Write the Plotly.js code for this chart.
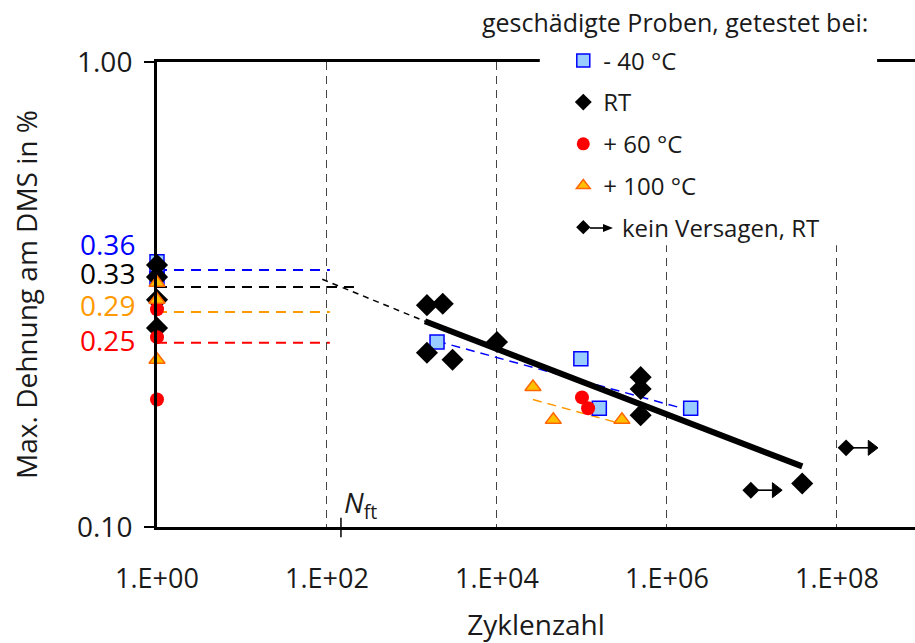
<!DOCTYPE html>
<html><head><meta charset="utf-8">
<script src="https://cdn.plot.ly/plotly-3.0.1.min.js"></script>
<style>html,body{margin:0;padding:0;overflow:hidden;background:#fff}</style>
</head><body><div id="chart" style="width:915px;height:643px"></div>
<script>
// ---- data ----
const m40_x = [1, 1, 1, 1970, 9.7e4, 1.6e5, 1.9e6];
const m40_y = [0.372, 0.357, 0.342, 0.250, 0.230, 0.180, 0.180];
const rt_x = [1, 1, 1, 1, 1500, 2300, 1500, 3000, 1e4, 4.9e5, 4.9e5, 4.9e5, 3.9e7];
const rt_y = [0.366, 0.345, 0.308, 0.268, 0.300, 0.302, 0.237, 0.229, 0.250, 0.210, 0.198, 0.174, 0.124];
const p60_x = [1, 1, 1, 1.0e5, 1.18e5];
const p60_y = [0.294, 0.256, 0.188, 0.190, 0.180];
const p100_x = [1, 1, 1, 2.65e4, 4.6e4, 2.95e5];
const p100_y = [0.335, 0.308, 0.229, 0.200, 0.170, 0.170];
const nf_x = [9.7e6, 1.28e8];
const nf_y = [0.120, 0.148];
const nf_arrow_x = [1.9e7, 2.55e8];
const fit_rt_x = [1420, 3.9e7];
const fit_rt_y = [0.277, 0.135];
const fit_rt_ext_x = [88, 1420];
const fit_rt_ext_y = [0.341, 0.277];
const fit_m40_x = [1970, 1.9e6];
const fit_m40_y = [0.251, 0.178];
const fit_p100_x = [2.65e4, 2.8e5];
const fit_p100_y = [0.188, 0.167];
const ref_levels = [0.357, 0.328, 0.290, 0.249];
const ref_labels = ['0.36', '0.33', '0.29', '0.25'];
const ref_colors = ['#0000ff', '#000000', '#ff9900', '#ff0000'];
const ref_end_x = [108, 232, 108, 108];
const ref_label_shift = [26, 14, 7, 3];
const xtick_vals = [1, 1e2, 1e4, 1e6, 1e8];
const xtick_text = ['1.E+00', '1.E+02', '1.E+04', '1.E+06', '1.E+08'];
const ytick_vals = [0.1, 1];
const ytick_text = ['0.10', '1.00'];
const nft = 146;
const legend_names = ['- 40 °C', 'RT', '+ 60 °C', '+ 100 °C', '\u00a0\u00a0\u00a0kein Versagen, RT'];

const FONT = 'Open Sans, Noto Sans, sans-serif';
const TXT = '#1a1a1a';
const traces = [];

// reference level dashed lines
ref_levels.forEach((v, i) => {
  traces.push({x: [1, ref_end_x[i]], y: [v, v], mode: 'lines', showlegend: false, cliponaxis: false,
    line: {color: ref_colors[i], width: 2, dash: '10px,7px'}});
});
// fit lines
traces.push({x: fit_rt_ext_x, y: fit_rt_ext_y, mode: 'lines', showlegend: false,
  line: {color: '#000', width: 1.5, dash: '6px,5px'}});
traces.push({x: fit_m40_x, y: fit_m40_y, mode: 'lines', showlegend: false,
  line: {color: '#0000ff', width: 1.5, dash: '9px,6px'}});
traces.push({x: fit_p100_x, y: fit_p100_y, mode: 'lines', showlegend: false,
  line: {color: '#ff9900', width: 1.5, dash: '9px,6px'}});
traces.push({x: fit_rt_x, y: fit_rt_y, mode: 'lines', showlegend: false,
  line: {color: '#000', width: 6}});

// run-out arrows (no failure): shaft from point to arrow head
nf_x.forEach((x, i) => {
  traces.push({x: [x, nf_arrow_x[i]], y: [nf_y[i], nf_y[i]], mode: 'lines+markers', showlegend: false,
    line: {color: '#000', width: 1.6},
    marker: {symbol: ['circle', 'triangle-right'], size: [0, 13], color: '#000', opacity: 1,
             line: {color: '#000', width: 1}}});
});

// data markers
const mk = {
  m40: {symbol: 'square', color: '#99ccff', line: {color: '#0000ff', width: 1.5}},
  rt: {symbol: 'diamond', color: '#000'},
  p60: {symbol: 'circle', color: '#ff0000'},
  p100: {symbol: 'triangle-up', color: '#ffc000', line: {color: '#ff6600', width: 1.5}},
  nf: {symbol: 'diamond', color: '#000'}
};
traces.push({x: m40_x, y: m40_y, mode: 'markers', showlegend: false, cliponaxis: false, marker: Object.assign({size: 14}, mk.m40)});
traces.push({x: rt_x, y: rt_y, mode: 'markers', showlegend: false, cliponaxis: false, marker: Object.assign({size: 17}, mk.rt)});
traces.push({x: p60_x, y: p60_y, mode: 'markers', showlegend: false, cliponaxis: false, marker: Object.assign({size: 14}, mk.p60)});
traces.push({x: p100_x, y: p100_y, mode: 'markers', showlegend: false, cliponaxis: false, marker: Object.assign({size: 14}, mk.p100)});
traces.push({x: nf_x, y: nf_y, mode: 'markers', showlegend: false, cliponaxis: false, marker: Object.assign({size: 13}, mk.nf)});

// legend entries (legend symbols only)
const legendKeys = ['m40', 'rt', 'p60', 'p100', 'nf'];
const legendSizes = [13, 13, 13, 12, 11];
legendKeys.forEach((k, i) => {
  traces.push({x: [null], y: [null], mode: 'markers', name: legend_names[i], legendgroup: 'g' + i,
    marker: Object.assign({size: legendSizes[i]}, mk[k])});
});

const annotations = [];
ref_levels.forEach((v, i) => {
  annotations.push({xref: 'paper', yref: 'y', x: -0.026, y: Math.log10(v), yshift: ref_label_shift[i],
    xanchor: 'right', yanchor: 'middle', showarrow: false, text: ref_labels[i],
    font: {family: FONT, size: 28, color: ref_colors[i]}});
});
// legend title
annotations.push({xref: 'paper', yref: 'paper', x: 0.941, y: 1.085, xanchor: 'right', yanchor: 'middle', showarrow: false,
  text: 'geschädigte Proben, getestet bei:', font: {family: FONT, size: 25, color: TXT}});
// N_ft label
annotations.push({xref: 'x', yref: 'paper', x: Math.log10(nft), y: 0.05, xanchor: 'left', yanchor: 'middle', xshift: 1,
  showarrow: false, text: '<i>N</i><sub>ft</sub>', font: {family: FONT, size: 28, color: TXT}});

const shapes = [
  {type: 'rect', xref: 'paper', yref: 'paper', x0: 0.505, x1: 0.95, y0: 0.606, y1: 1.05,
   fillcolor: '#fff', line: {width: 0}, layer: 'above'},
  {type: 'line', xref: 'x', yref: 'paper', x0: nft, x1: nft, y0: -0.022, y1: 0.02,
   line: {color: '#000', width: 1.5}},
  // arrow beside the "kein Versagen" legend symbol
  {type: 'line', xref: 'paper', yref: 'paper', x0: 0.5712, x1: 0.592, y0: 0.643, y1: 0.643,
   line: {color: '#000', width: 1.6}},
  {type: 'path', xref: 'paper', yref: 'paper', path: 'M 0.6016 0.643 L 0.5884 0.6516 L 0.5884 0.6344 Z',
   fillcolor: '#000', line: {color: '#000', width: 0}}
];

const layout = {
  width: 915, height: 643,
  margin: {l: 157, r: 0, t: 62, b: 116},
  paper_bgcolor: '#fff', plot_bgcolor: '#fff',
  font: {family: FONT, size: 24, color: TXT},
  showlegend: true,
  legend: {x: 0.536, y: 1.051, xanchor: 'left', yanchor: 'top', bgcolor: 'rgba(0,0,0,0)', borderwidth: 0,
    traceorder: 'grouped', tracegroupgap: 7.5, font: {family: FONT, size: 24, color: TXT}},
  xaxis: {type: 'log', range: [0, 8.918], tickvals: xtick_vals, ticktext: xtick_text,
    showgrid: true, gridcolor: '#444', gridwidth: 1, griddash: '8px,6px',
    showline: true, linecolor: '#000', linewidth: 3, mirror: true, ticks: '', ticklabelstandoff: 26,
    zeroline: false, tickfont: {family: FONT, size: 27, color: TXT},
    title: {text: 'Zyklenzahl', standoff: 20, font: {family: FONT, size: 28, color: TXT}}},
  yaxis: {type: 'log', range: [-1, 0], tickvals: ytick_vals, ticktext: ytick_text,
    showgrid: false, showline: true, linecolor: '#000', linewidth: 3, ticks: 'outside', ticklen: 10,
    tickwidth: 1.5, tickcolor: '#000', ticklabelstandoff: 6, zeroline: false,
    tickfont: {family: FONT, size: 28, color: TXT},
    title: {text: 'Max. Dehnung am DMS in %', standoff: 32, font: {family: FONT, size: 28, color: TXT}}},
  annotations: annotations,
  shapes: shapes
};

Plotly.newPlot('chart', traces, layout, {displayModeBar: false, staticPlot: true});
</script>
</body></html>
